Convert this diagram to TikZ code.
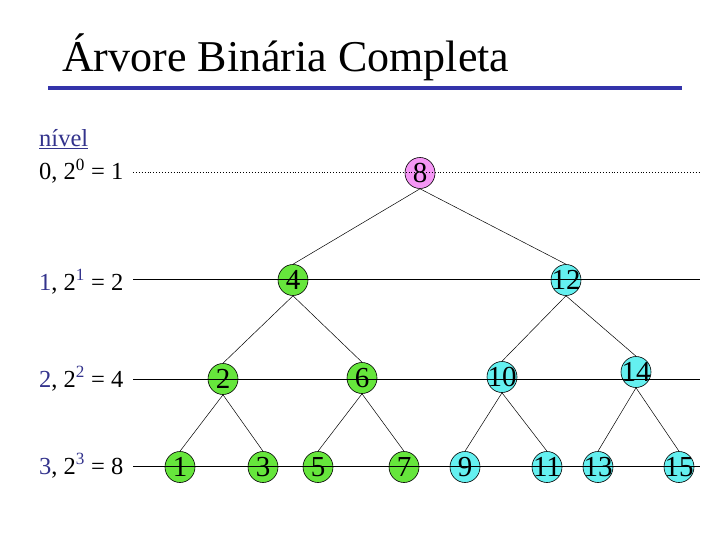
\documentclass[tikz,border=0pt]{standalone}
\usepackage{fontspec}
\setmainfont{Liberation Serif}
\usetikzlibrary{shapes.geometric}
\definecolor{titleblue}{RGB}{51,51,170}
\definecolor{lvlblue}{RGB}{51,51,140}
\definecolor{pinkfill}{RGB}{245,150,245}
\definecolor{greenfill}{RGB}{102,230,60}
\definecolor{cyanfill}{RGB}{100,240,240}
\tikzset{
  vtx/.style={ellipse, draw=black, line width=0.6pt, minimum width=30pt, minimum height=31pt, inner sep=0pt, font=\fontsize{29}{29}\selectfont},
  pinkv/.style={vtx, fill=pinkfill},
  greenv/.style={vtx, fill=greenfill},
  cyanv/.style={vtx, fill=cyanfill},
  lvltext/.style={anchor=base west, inner sep=0pt, font=\fontsize{24.5}{33}\selectfont},
  lvlline/.style={line width=0.9pt, black},
  edge/.style={line width=0.5pt, black}
}
\newcommand{\lb}[1]{\textcolor{lvlblue}{#1}}
\newcommand{\num}[1]{\makebox[0pt]{\raisebox{-0.34em}[0pt][0pt]{#1}}}
\begin{document}
\begin{tikzpicture}[x=1pt,y=-1pt]
\useasboundingbox (0,0) rectangle (720,540);
% title
\node[anchor=base west, inner sep=0pt, font=\fontsize{44}{44}\selectfont] (title) at (62,72) {Árvore Binária Completa};
\fill[titleblue] (48,86) rectangle (682,90);
% level labels
\node[lvltext, text=lvlblue] (nivel) at (39,147) {\underline{nível}};
\node[lvltext] (l0) at (39,180) {0, 2\textsuperscript{0} = 1};
\node[lvltext] (l1) at (39,290) {\lb{1}, 2\textsuperscript{\lb{1}} = 2};
\node[lvltext] (l2) at (39,387) {\lb{2}, 2\textsuperscript{\lb{2}} = 4};
\node[lvltext] (l3) at (39,474) {\lb{3}, 2\textsuperscript{\lb{3}} = 8};
% nodes
\node[pinkv] (n8) at (420,173) {\num{8}};
\node[greenv] (n4) at (293,280) {\num{4}};
\node[cyanv] (n12) at (566,280) {\num{12}};
\node[greenv] (n2) at (223,379) {\num{2}};
\node[greenv] (n6) at (362,378) {\num{6}};
\node[cyanv] (n10) at (502,377) {\num{10}};
\node[cyanv] (n14) at (636,372) {\num{14}};
\node[greenv] (n1) at (180,467) {\num{1}};
\node[greenv] (n3) at (263,467) {\num{3}};
\node[greenv] (n5) at (318,467) {\num{5}};
\node[greenv] (n7) at (404,467) {\num{7}};
\node[cyanv] (n9) at (465,467) {\num{9}};
\node[cyanv] (n11) at (547,467) {\num{11}};
\node[cyanv] (n13) at (598,467) {\num{13}};
\node[cyanv] (n15) at (679,467) {\num{15}};
% level lines
\coordinate (a0) at (133,172); \coordinate (b0) at (700,172);
\coordinate (a1) at (133,279); \coordinate (b1) at (700,279);
\coordinate (a2) at (133,379); \coordinate (b2) at (700,379);
\coordinate (a3) at (133,466); \coordinate (b3) at (700,466);
\draw[line width=0.9pt, dotted] (a0) -- (b0);
\draw[lvlline] (a1) -- (b1);
\draw[lvlline] (a2) -- (b2);
\draw[lvlline] (a3) -- (b3);
% edges
\draw[edge] (n8.south) -- (n4.north);
\draw[edge] (n8.south) -- (n12.north);
\draw[edge] (n4.south) -- (n2.north);
\draw[edge] (n4.south) -- (n6.north);
\draw[edge] (n12.south) -- (n10.north);
\draw[edge] (n12.south) -- (n14.north);
\draw[edge] (n2.south) -- (n1.north);
\draw[edge] (n2.south) -- (n3.north);
\draw[edge] (n6.south) -- (n5.north);
\draw[edge] (n6.south) -- (n7.north);
\draw[edge] (n10.south) -- (n9.north);
\draw[edge] (n10.south) -- (n11.north);
\draw[edge] (n14.south) -- (n13.north);
\draw[edge] (n14.south) -- (n15.north);
\end{tikzpicture}
\end{document}
